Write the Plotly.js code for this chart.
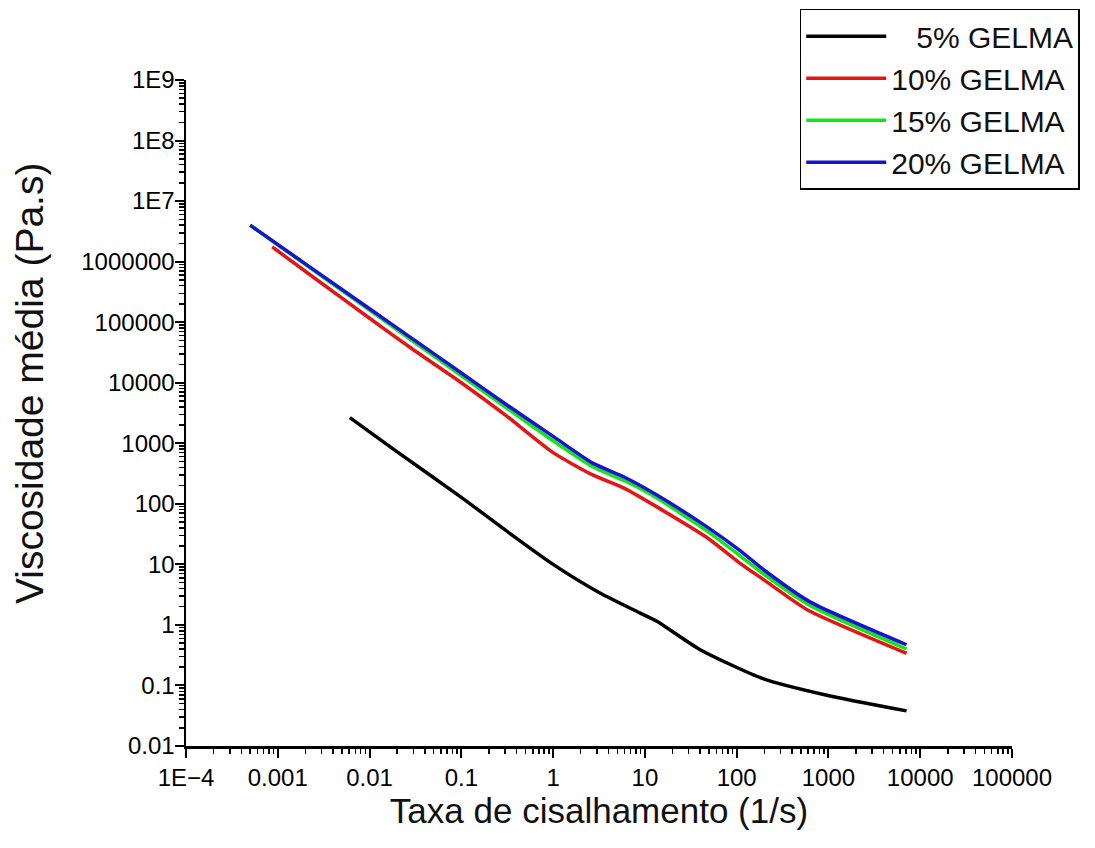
<!DOCTYPE html>
<html>
<head>
<meta charset="utf-8">
<script src="https://cdn.plot.ly/plotly-3.0.1.min.js"></script>
<style>html,body{margin:0;padding:0;background:#fff;}#chart{width:1095px;height:848px;}</style>
</head>
<body>
<div id="chart"></div>
<script>
// Series names
const seriesNames = ["\u00a0\u00a0\u00a05% GELMA", "10% GELMA", "15% GELMA", "20% GELMA"];
const seriesColors = ["#000000", "#e61414", "#14e614", "#1414d2"];

// 5% GELMA
const x5 = [0.0061, 0.02, 0.1, 0.3, 1, 3.2, 8.8, 13.5, 40, 193, 960, 7100];
const y5 = [2650, 720, 128, 37, 10, 3.4, 1.58, 1.15, 0.39, 0.13, 0.069, 0.038];

// 10% GELMA
const x10 = [0.00087, 0.003, 0.01, 0.03, 0.1, 0.3, 1, 2.7, 6, 13.5, 47, 108, 200, 580, 7100];
const y10 = [1.75e6, 4.4e5, 1.16e5, 3.5e4, 1.0e4, 2.95e3, 700, 300, 180, 89, 28, 10.5, 5.5, 1.8, 0.34];

// 15% GELMA
const x15 = [0.0005, 0.002, 0.01, 0.03, 0.1, 0.3, 1, 2.7, 6, 13.5, 47, 108, 200, 630, 7100];
const y15 = [4.0e6, 8.9e5, 1.58e5, 4.8e4, 1.3e4, 4.0e3, 1100, 410, 240, 125, 36, 14, 6.8, 2.1, 0.4];

// 20% GELMA
const x20 = [0.0005, 0.002, 0.01, 0.03, 0.1, 0.3, 1, 2.7, 6, 13.5, 47, 108, 200, 630, 7100];
const y20 = [4.0e6, 9.2e5, 1.67e5, 5.2e4, 1.45e4, 4.5e3, 1300, 470, 275, 140, 42, 17, 8, 2.4, 0.47];

// Tick labels
const xTickVals = [1e-4, 1e-3, 1e-2, 0.1, 1, 10, 100, 1000, 10000, 100000];
const xTickText = ["1E\u22124", "0.001", "0.01", "0.1", "1", "10", "100", "1000", "10000", "100000"];
const yTickVals = [0.01, 0.1, 1, 10, 100, 1000, 1e4, 1e5, 1e6, 1e7, 1e8, 1e9];
const yTickText = ["0.01", "0.1", "1", "10", "100", "1000", "10000", "100000", "1000000", "1E7", "1E8", "1E9"];

const xs = [x5, x10, x15, x20];
const ys = [y5, y10, y15, y20];

const traces = xs.map((x, i) => ({
  x: x, y: ys[i], type: "scatter", mode: "lines", name: seriesNames[i],
  line: {color: seriesColors[i], width: 3.5, shape: "spline", smoothing: 0.6}
}));

const font = "Liberation Sans, Arial, sans-serif";

const axisCommon = {
  type: "log",
  showgrid: false,
  zeroline: false,
  showline: true,
  linecolor: "#000",
  linewidth: 2.5,
  ticks: "outside",
  ticklen: 9,
  tickwidth: 2,
  tickcolor: "#000",
  tickmode: "array",
  tickfont: {family: font, size: 24, color: "#000"},
  minor: {ticks: "outside", ticklen: 5, tickwidth: 1.5, tickcolor: "#000", dtick: "D1", showgrid: false}
};

const layout = {
  width: 1095, height: 848,
  paper_bgcolor: "#fff", plot_bgcolor: "#fff",
  margin: {l: 186, r: 83, t: 80, b: 102, autoexpand: false},
  showlegend: true,
  legend: {
    x: 0.743, y: 1.107, xanchor: "left", yanchor: "top",
    bgcolor: "#fff", bordercolor: "#000", borderwidth: 1.5,
    font: {family: font, size: 30, color: "#111"},
    itemwidth: 80, tracegroupgap: 0
  },
  xaxis: Object.assign({}, axisCommon, {
    range: [-4, 5],
    tickvals: xTickVals, ticktext: xTickText,
    title: {text: "Taxa de cisalhamento (1/s)", font: {family: font, size: 35, color: "#111"}, standoff: 8}
  }),
  yaxis: Object.assign({}, axisCommon, {
    range: [-2, 9],
    tickvals: yTickVals, ticktext: yTickText,
    ticklabelstandoff: -5
  }),
  annotations: [{
    text: "Viscosidade média (Pa.s)",
    xref: "paper", yref: "paper",
    x: -0.19, y: 0.545, xanchor: "center", yanchor: "middle",
    textangle: -90, showarrow: false,
    font: {family: font, size: 39, color: "#111"}
  }]
};

Plotly.newPlot("chart", traces, layout, {displayModeBar: false, staticPlot: true});
</script>
</body>
</html>
